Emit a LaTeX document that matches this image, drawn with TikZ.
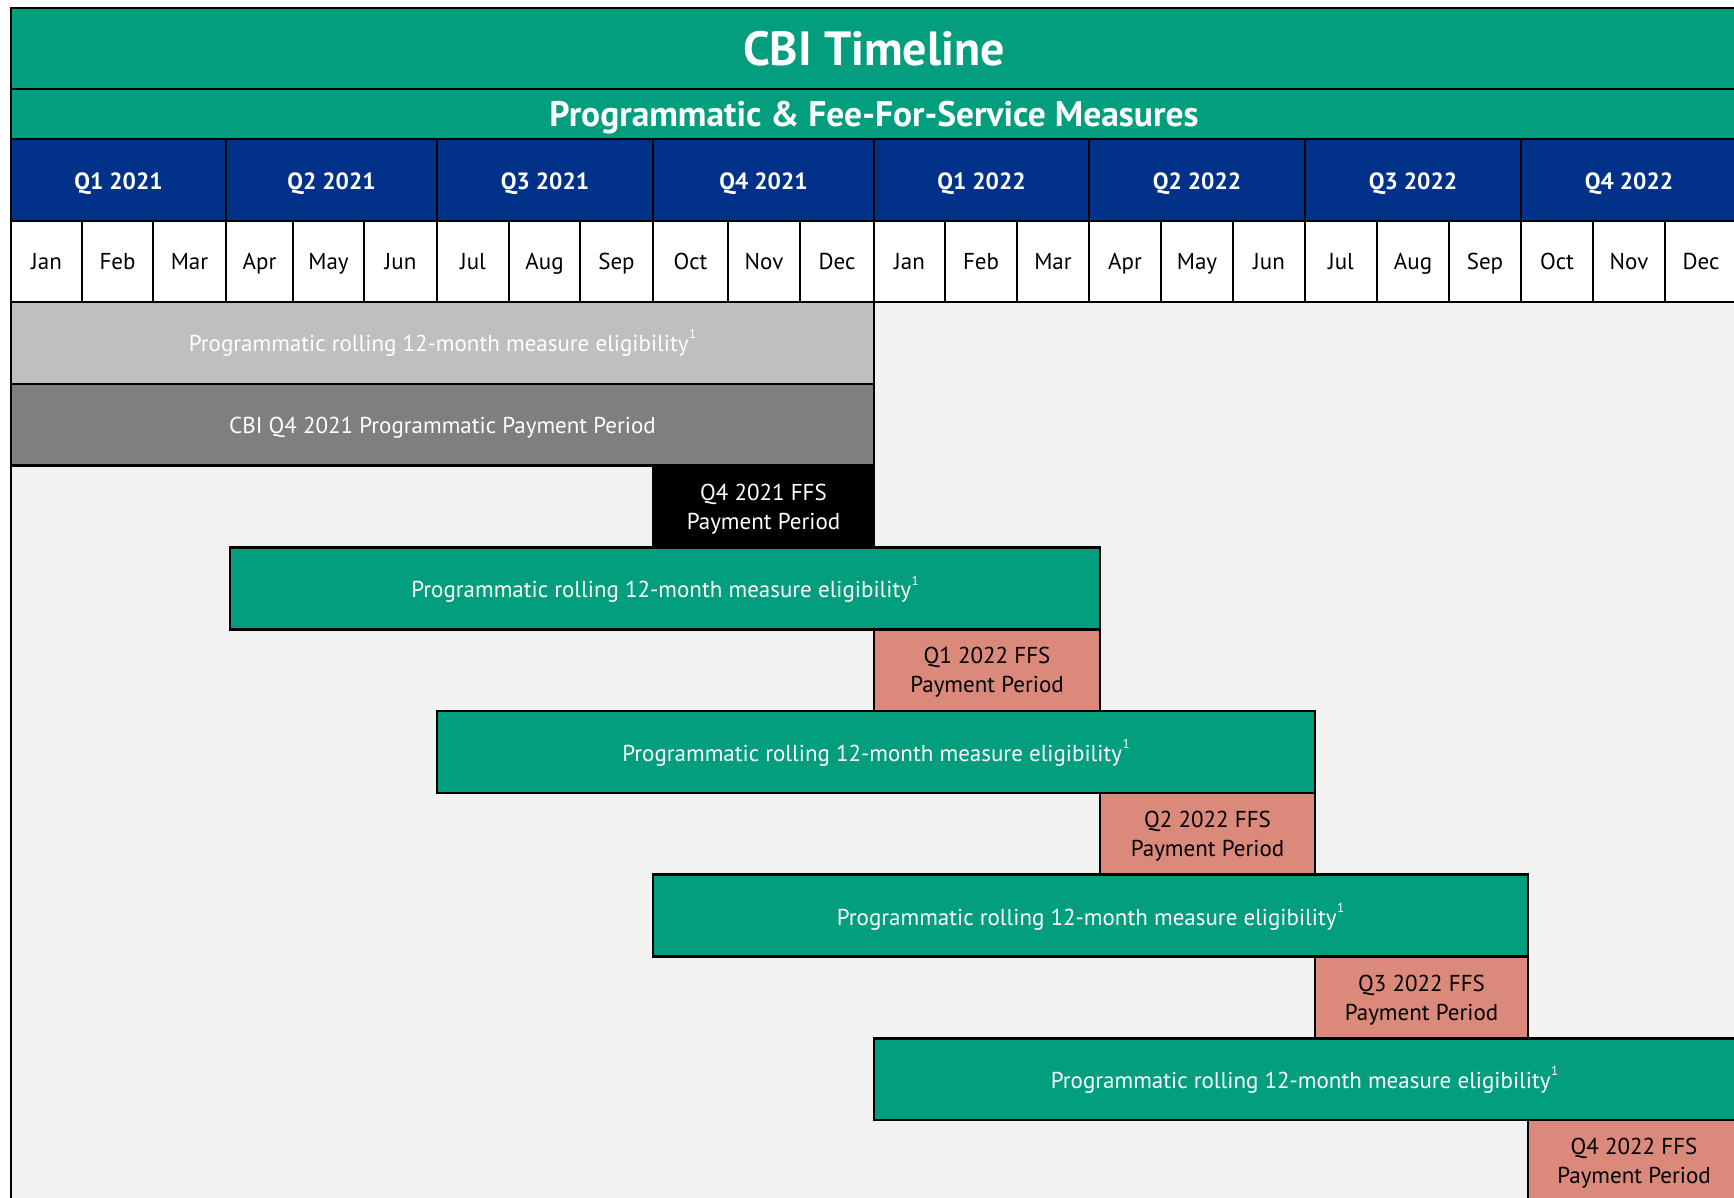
\documentclass[tikz,border=0pt]{standalone}
\usepackage{fontspec}
\setmainfont{PT Sans}
\definecolor{cbigreen}{HTML}{029E7D}
\definecolor{cbiblue}{HTML}{023189}
\definecolor{salmon}{HTML}{DA897B}
\definecolor{lgrey}{HTML}{BFBFBF}
\definecolor{dgrey}{HTML}{7F7F7F}
\definecolor{bggrey}{HTML}{F2F2F2}
\newcommand\cell[7]{\node[box,#6,minimum width={(#4-#2)*1pt},minimum height={(#5-#3)*1pt}] (#1) at (#2,#3) {#7};}
\newcommand\low[2]{\raisebox{-#1pt}[\height][\depth]{#2}}
\newcommand\elig{Programmatic rolling 12-month measure eligibility\kern0.5pt\raisebox{0.55em}{\fontsize{13}{13}\selectfont 1}}
\begin{document}
\begin{tikzpicture}[x=1pt,y=-1pt,
  box/.style={draw=black,line width=2.6pt,inner sep=0pt,outer sep=0pt,anchor=north west,align=center},
  txt/.style={font=\fontsize{23}{29}\selectfont},
  hdr/.style={fill=cbigreen,text=white},
  qcell/.style={fill=cbiblue,text=white,font=\bfseries\fontsize{23.5}{28}\selectfont},
  mcell/.style={fill=white,text=black,txt},
  greybar/.style={fill=lgrey,text=white,txt},
  darkbar/.style={fill=dgrey,text=white,txt},
  blackbox/.style={fill=black,text=white,txt},
  greenbar/.style={fill=cbigreen,text=white,txt},
  ffsbox/.style={fill=salmon,text=black,txt}]
\useasboundingbox (0,0) rectangle (1734,1197);
\clip (0,0) rectangle (1734,1197);
\fill[white] (0,0) rectangle (1734,1197);
\fill[bggrey] (11,302) rectangle (1740,1205);
% header
\cell{title}{11}{8}{1737}{89}{hdr,font=\bfseries\fontsize{48}{54}\selectfont}{CBI Timeline}
\cell{sub}{11}{89}{1737}{139}{hdr,font=\bfseries\fontsize{35.5}{40}\selectfont}{\low{4}{Programmatic \& Fee-For-Service Measures}}
\foreach \q/\a/\b [count=\i] in {Q1 2021/11/226, Q2 2021/226/437, Q3 2021/437/653, Q4 2021/653/874, Q1 2022/874/1089, Q2 2022/1089/1305, Q3 2022/1305/1521, Q4 2022/1521/1737}
  {\cell{q\i}{\a}{139}{\b}{221}{qcell}{\low{3.3}{\q}}}
\foreach \n/\a/\b [count=\i] in {Jan/11/82, Feb/82/153, Mar/153/226, Apr/226/293, May/293/364, Jun/364/437, Jul/437/509, Aug/509/580, Sep/580/653, Oct/653/728, Nov/728/800, Dec/800/874, Jan/874/945, Feb/945/1017, Mar/1017/1089, Apr/1089/1161, May/1161/1233, Jun/1233/1305, Jul/1305/1377, Aug/1377/1449, Sep/1449/1521, Oct/1521/1593, Nov/1593/1665, Dec/1665/1737}
  {\cell{m\i}{\a}{221}{\b}{302}{mcell}{\low{2}{\strut\n}}}
% bars
\cell{b1}{11}{302}{874}{383.8}{greybar}{\elig}
\cell{b2}{11}{383.8}{874}{465.6}{darkbar}{\low{3}{CBI Q4 2021 Programmatic Payment Period}}
\cell{f0}{653}{465.6}{874}{547.4}{blackbox}{\low{3}{\begin{tabular}{@{}c@{}}Q4 2021 FFS\\Payment Period\end{tabular}}}
\cell{g1}{230}{547.4}{1100}{629.2}{greenbar}{\low{1}{\elig}}
\cell{f1}{874}{629.2}{1100}{711}{ffsbox}{\low{2.5}{\begin{tabular}{@{}c@{}}Q1 2022 FFS\\Payment Period\end{tabular}}}
\cell{g2}{437}{711}{1315}{792.8}{greenbar}{\low{1}{\elig}}
\cell{f2}{1100}{792.8}{1315}{874.6}{ffsbox}{\low{2.5}{\begin{tabular}{@{}c@{}}Q2 2022 FFS\\Payment Period\end{tabular}}}
\cell{g3}{653}{874.6}{1528}{956.4}{greenbar}{\low{1}{\elig}}
\cell{f3}{1315}{956.4}{1528}{1038.2}{ffsbox}{\low{2.5}{\begin{tabular}{@{}c@{}}Q3 2022 FFS\\Payment Period\end{tabular}}}
\cell{g4}{874}{1038.2}{1740}{1120}{greenbar}{\low{1}{\hspace*{-5pt}\elig}}
\cell{f4}{1528}{1120}{1740}{1201.8}{ffsbox}{\low{2.5}{\begin{tabular}{@{}c@{}}Q4 2022 FFS\\Payment Period\end{tabular}}}
% frame
\node[box,minimum width=1729pt,minimum height=1195pt] (frame) at (11,8) {};
\end{tikzpicture}
\end{document}
